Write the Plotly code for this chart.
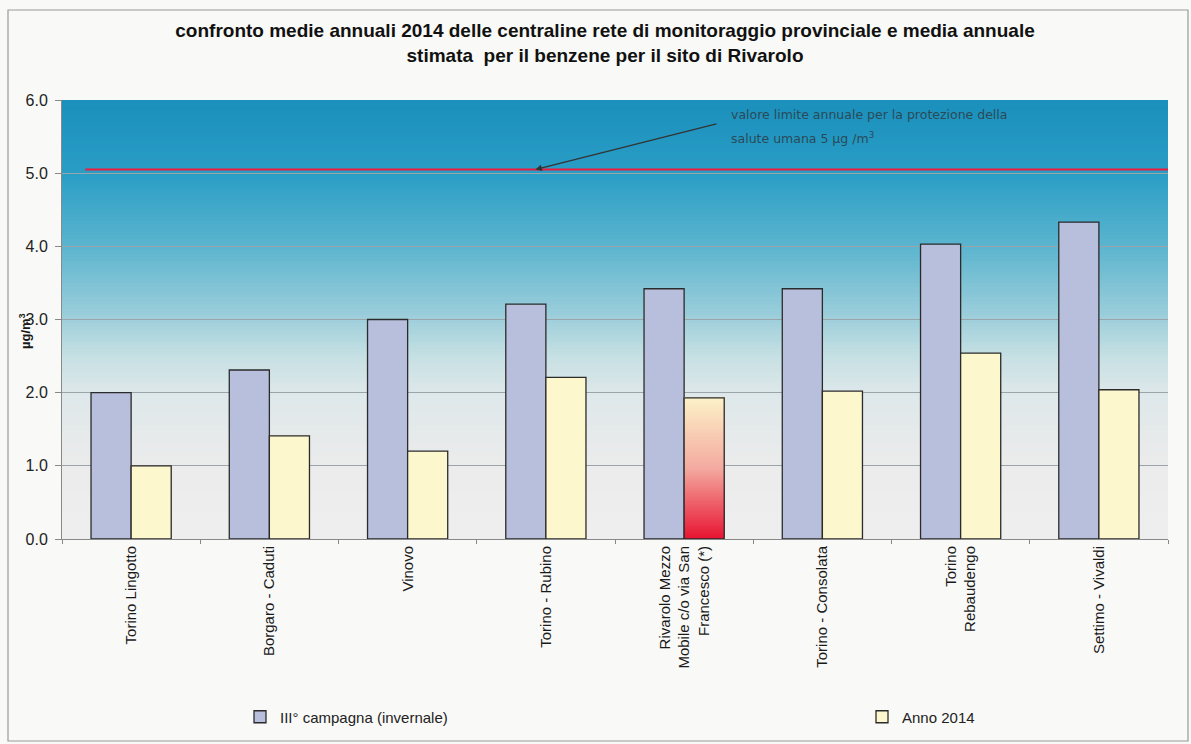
import plotly.graph_objects as go
import numpy as np

categories = ["Torino Lingotto", "Borgaro - Caduti", "Vinovo", "Torino - Rubino",
              "Rivarolo Mezzo<br>Mobile c/o via San<br>Francesco (*)", "Torino - Consolata",
              "Torino<br>Rebaudengo", "Settimo - Vivaldi"]
campagna = [2.0, 2.31, 3.0, 3.21, 3.42, 3.42, 4.03, 4.33]
anno2014 = [1.0, 1.41, 1.2, 2.21, 1.93, 2.02, 2.54, 2.04]
limit_value = 5.05
highlight_index = 4

W, H = 1191, 744
ml, mr, mt, mb = 62, 23, 100, 205
pw, ph = W - ml - mr, H - mt - mb

fig = go.Figure()

# gradient background of plot area (overlapping rects, bottom to top)
stops = [(0.0, (239, 239, 239)), (1.0, (236, 236, 236)), (2.0, (222, 232, 234)),
         (2.5, (198, 224, 228)), (3.0, (160, 208, 220)), (4.0, (92, 181, 207)),
         (5.0, (42, 158, 198)), (6.0, (27, 144, 188))]
sv = [s[0] for s in stops]
def col_at(v):
    r = np.interp(v, sv, [s[1][0] for s in stops])
    g = np.interp(v, sv, [s[1][1] for s in stops])
    b = np.interp(v, sv, [s[1][2] for s in stops])
    return f"rgb({int(r)},{int(g)},{int(b)})"
N = 120
shapes = []
for i in range(N):
    y0 = 6.0 * i / N
    y1 = 6.0 * (i + 1) / N
    shapes.append(dict(type="rect", xref="paper", yref="y", x0=0, x1=1, y0=y0, y1=6.0,
                       fillcolor=col_at((y0 + y1) / 2), line=dict(width=0), layer="below"))

# limit line
shapes.append(dict(type="line", xref="paper", yref="y", x0=0.021, x1=1.0, y0=limit_value, y1=limit_value,
                   line=dict(color="#ee1c3a", width=1.8), layer="above"))
# outer frame
shapes.append(dict(type="rect", xref="paper", yref="paper",
                   x0=(8 - ml) / pw, x1=(1188 - ml) / pw,
                   y0=(mt + ph - 741) / ph, y1=(mt + ph - 10) / ph,
                   line=dict(color="#9a9a96", width=1.2), fillcolor="rgba(0,0,0,0)", layer="below"))

edge = "#2b2b2b"
fig.add_trace(go.Bar(x=categories, y=campagna, name="III° campagna (invernale)",
                     marker=dict(color="#b7bfdc", line=dict(color=edge, width=1.3)),
                     offsetgroup="a", legend="legend"))

# gradient bar for Rivarolo (overlapping segments, bottom to top)
M = 60
hv = anno2014[highlight_index]
seg_base = [hv * k / M for k in range(M)]
seg_h = [hv - b for b in seg_base]
def grad_col(t):
    c0 = np.array([232, 20, 50]); c1 = np.array([244, 170, 160]); c2 = np.array([253, 242, 200])
    if t < 0.5:
        c = c0 + (c1 - c0) * (t / 0.5)
    else:
        c = c1 + (c2 - c1) * ((t - 0.5) / 0.5)
    return f"rgb({int(c[0])},{int(c[1])},{int(c[2])})"
seg_cols = [grad_col((k + 0.5) / M) for k in range(M)]
fig.add_trace(go.Bar(x=[categories[highlight_index]] * M, y=seg_h, base=seg_base,
                     marker=dict(color=seg_cols, line=dict(width=0)),
                     offsetgroup="b", showlegend=False, hoverinfo="skip"))

ycols = ["#fcf7cc"] * len(categories)
ycols[highlight_index] = "rgba(0,0,0,0)"
fig.add_trace(go.Bar(x=categories, y=anno2014, name="Anno 2014",
                     marker=dict(color=ycols, line=dict(color=edge, width=1.3)),
                     offsetgroup="b", legend="legend2"))

fig.add_annotation(xref="x domain", yref="y", x=0.428, y=limit_value,
                   ax=0.593, ay=5.68, axref="x domain", ayref="y",
                   showarrow=True, arrowhead=2, arrowsize=1, arrowwidth=1.3, arrowcolor="#333", text="")
ann_font = dict(family="DejaVu Sans, Liberation Sans, Arial", size=12.5, color="#2a4a58")
fig.add_annotation(xref="paper", yref="paper", x=(729 - ml) / pw, y=(mt + ph - 115) / ph,
                   xanchor="left", yanchor="middle", showarrow=False,
                   text="valore limite annuale per la protezione della", font=ann_font)
fig.add_annotation(xref="paper", yref="paper", x=(729 - ml) / pw, y=(mt + ph - 138) / ph,
                   xanchor="left", yanchor="middle", showarrow=False,
                   text="salute umana 5 µg /m<sup>3</sup>", font=ann_font)
# y-axis title
fig.add_annotation(xref="paper", yref="paper", x=(25 - ml) / pw, y=(mt + ph - 331) / ph,
                   xanchor="center", yanchor="middle", showarrow=False, textangle=-90,
                   text="<b>µg/m<sup>3</sup></b>",
                   font=dict(family="Liberation Sans, Arial", size=13, color="#1a1a1a"))

leg_common = dict(orientation="h", xref="container", yref="container", xanchor="left", yanchor="middle",
                  bgcolor="rgba(0,0,0,0)", itemwidth=30)
fig.update_layout(
    width=W, height=H,
    margin=dict(l=ml, r=mr, t=mt, b=mb, autoexpand=False),
    paper_bgcolor="#f9f9f7", plot_bgcolor="#efefef",
    barmode="group", bargap=0.42, bargroupgap=0,
    shapes=shapes,
    title=dict(text="<b>confronto medie annuali 2014 delle centraline rete di monitoraggio provinciale e media annuale<br>stimata  per il benzene per il sito di Rivarolo</b>",
               x=0.508, xanchor="center", y=1 - 37 / H, yanchor="middle",
               font=dict(family="Liberation Sans, Arial", size=19, color="#111")),
    font=dict(family="Liberation Sans, Arial", color="#1a1a1a"),
    legend=dict(x=240 / W, y=1 - 717 / H, font=dict(size=15, color="#222"), **leg_common),
    legend2=dict(x=862 / W, y=1 - 717 / H, font=dict(size=15, color="#222"), **leg_common),
    showlegend=True,
)
fig.update_xaxes(tickangle=-90, tickfont=dict(size=15), ticks="outside", ticklen=4,
                 tickson="boundaries", tickcolor="#888", showline=True, linecolor="#888",
                 showgrid=False)
fig.update_yaxes(range=[0, 6], dtick=1, tickformat=".1f", tickfont=dict(size=16, color="#222"),
                 ticks="outside", ticklen=6, tickcolor="#888", showline=True, linecolor="#888",
                 ticklabelstandoff=4,
                 showgrid=True, gridcolor="#9aa5aa", gridwidth=1, zeroline=False)

fig.write_html("out.html")
